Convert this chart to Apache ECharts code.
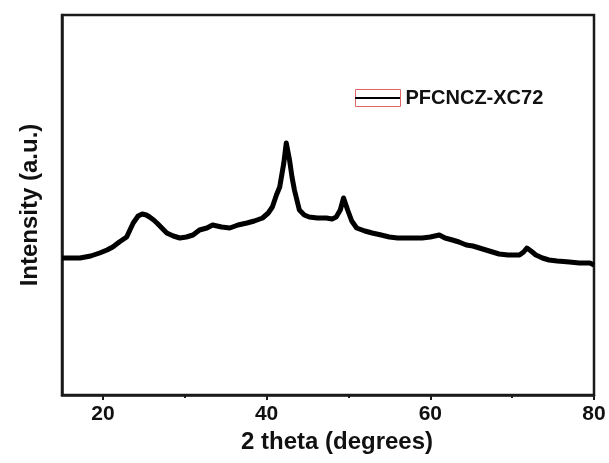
<!DOCTYPE html>
<html>
<head>
<meta charset="utf-8">
<script src="https://cdn.jsdelivr.net/npm/echarts@6/dist/echarts.min.js"></script>
<style>
html,body{margin:0;padding:0;background:#fff;}
#chart{width:609px;height:463px;}
</style>
</head>
<body>
<div id="chart"></div>
<script>
var seriesName = 'PFCNCZ-XC72';
var twoTheta = [15,16,17.2,18.5,19.6,20.5,21.2,22,22.9,23.7,24.3,24.8,25.3,25.7,26.2,26.6,27.2,27.8,28.6,29.4,30.2,31,31.8,32.7,33.4,34.5,35.5,36.5,37.6,38.5,39.5,40.2,40.7,41.2,41.6,42.1,42.4,42.8,43.1,43.4,44,44.6,45.2,46.2,47.3,48,48.5,49,49.4,49.9,50.4,51,52,52.9,54,55,56,57.1,58,59,60,61.1,61.8,62.7,63.5,64.4,65.2,66,67.2,68.4,69.5,70.9,71.4,71.8,72.3,72.9,73.7,74.5,75.5,77,78.2,79.5,80];
var intensity = [137,137,137,139,142,145,148,153,158,172,179,181,180,178,175,172,167,162,159,157,158,160,165,167,170,168,167,170,172,174,177,182,188,200,208,232,252,235,218,205,185,180,178,177,177,176,178,185,197,185,174,167,164,162,160,158,157,157,157,157,158,160,157,155,153,150,149,147,144,141,140,140,143,147,144,140,137,135,134,133,132,132,130];
var majorTicks = [20,40,60,80];
var minorTicks = [30,50,70];

var data = twoTheta.map(function(x,i){return [x,intensity[i]];});
var fontFam = '"Liberation Sans", Arial, sans-serif';
var chart = echarts.init(document.getElementById('chart'));
chart.setOption({
  backgroundColor:'#fff',
  animation:false,
  grid:{left:62,right:15,top:15,bottom:68,show:true,borderColor:'#1a1a1a',borderWidth:2.5,backgroundColor:'transparent'},
  legend:[{
    data:[seriesName],left:355,top:88,padding:0,itemWidth:45,itemHeight:17,selectedMode:false,
    icon:'rect',
    itemStyle:{color:'rgba(0,0,0,0)',borderColor:'#e06666',borderWidth:1},
    textStyle:{fontFamily:fontFam,fontWeight:'bold',fontSize:20,color:'#111'}
  },{
    data:[seriesName],left:355,top:88,padding:0,itemWidth:45,itemHeight:17,selectedMode:false,
    icon:'path://M0,0h0.01v0.01h-0.01z M0,7.5h45v2h-45z M44.99,16.99h0.01v0.01h-0.01z',
    itemStyle:{color:'#000',borderWidth:0},
    textStyle:{fontFamily:fontFam,fontWeight:'bold',fontSize:20,color:'rgba(0,0,0,0)'}
  }],
  xAxis:[{
    type:'value',min:15,max:80,interval:5,
    name:'2 theta (degrees)',nameLocation:'middle',nameGap:33,
    nameTextStyle:{fontFamily:fontFam,fontWeight:'bold',fontSize:24,color:'#111',padding:[0,0,0,18]},
    axisLine:{show:true,onZero:false,lineStyle:{color:'#1a1a1a',width:2.5}},
    axisTick:{show:true,customValues:majorTicks,length:5,lineStyle:{color:'#1a1a1a',width:2}},
    axisLabel:{show:true,customValues:majorTicks,margin:9,fontFamily:fontFam,fontWeight:'bold',fontSize:21,color:'#111'},
    splitLine:{show:false}
  },{
    type:'value',min:15,max:80,interval:5,position:'bottom',
    axisLine:{show:false},
    axisTick:{show:true,customValues:minorTicks,length:3,lineStyle:{color:'#1a1a1a',width:2}},
    axisLabel:{show:false},splitLine:{show:false}
  }],
  yAxis:{
    type:'value',min:0,max:380,
    name:'Intensity (a.u.)',nameLocation:'middle',nameGap:20,
    nameTextStyle:{fontFamily:fontFam,fontWeight:'bold',fontSize:24,color:'#111'},
    axisLine:{show:true,onZero:false,lineStyle:{color:'#1a1a1a',width:2.5}},
    axisTick:{show:false},axisLabel:{show:false},splitLine:{show:false}
  },
  series:[{
    name:seriesName,type:'line',data:data,showSymbol:false,symbol:'none',
    lineStyle:{color:'#000',width:5,join:'round'},itemStyle:{color:'#000'}
  }]
});
</script>
</body>
</html>
